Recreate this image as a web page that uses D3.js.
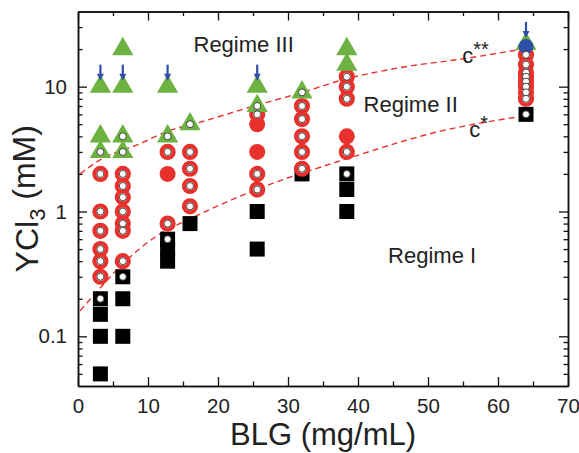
<!DOCTYPE html>
<html>
<head>
<meta charset="utf-8">
<script src="https://cdn.jsdelivr.net/npm/d3@7"></script>
<style>
  body { margin: 0; background: #fff; }
  text { font-family: "Liberation Sans", Arial, sans-serif; fill: #222; }
  .axis path, .axis line { stroke: #111; }
  .axis path { stroke-width: 1.5; }
  .axis line { stroke-width: 1.3; }
</style>
</head>
<body>
<script>
// BLG (mg/mL) vs YCl3 (mM), one [x, y] pair per marker
var squares = [[3.2,0.05],[3.2,0.1],[3.2,0.15],[3.2,0.2],[6.4,0.1],[6.4,0.2],[6.4,0.3],
  [12.8,0.4],[12.8,0.5],[12.8,0.6],[16,0.8],[25.6,0.5],[25.6,1],[32,2],
  [38.4,1],[38.4,1.5],[38.4,2],[64,6]];
var squareDots = [[3.2,0.2],[6.4,0.3],[12.8,0.6],[38.4,2],[64,6]];

var rings = [[3.2,2],[3.2,1],[3.2,0.7],[3.2,0.5],[3.2,0.4],[3.2,0.3],
  [6.4,2],[6.4,1.6],[6.4,1.3],[6.4,1],[6.4,0.8],[6.4,0.7],[6.4,0.4],
  [12.8,3],[12.8,0.8],
  [16,3],[16,2.2],[16,1.6],[16,1.1],
  [25.6,6],[25.6,2],[25.6,1.5],
  [32,7],[32,5.5],[32,4],[32,3],[32,2.2],
  [38.4,12],[38.4,10],[38.4,8],[38.4,3],
  [64,18],[64,15],[64,13],[64,12],[64,11],[64,10],[64,9],[64,8]];
var filledRed = [[12.8,2],[25.6,5],[25.6,3],[38.4,4]];

var triangles = [[3.2,10],[3.2,4],[3.2,3],[6.4,20],[6.4,10],[6.4,4],[6.4,3],
  [12.8,10],[12.8,4],[16,5],[25.6,10],[25.6,7],[32,9],[38.4,20],[38.4,15],[64,22]];
var triangleDots = [[3.2,3],[6.4,4],[6.4,3],[12.8,4],[16,5],[25.6,7],[32,9]];

var blueDots = [[64,21]];
var arrows = [[3.2,10],[6.4,10],[12.8,10],[25.6,10],[64,22]];

// hand-drawn guide curves
var cStar = [[0.3,0.16],[3.2,0.245],[7,0.41],[11.3,0.64],[16.5,0.9],[25.5,1.5],
  [38,2.6],[51.8,4.4],[63.5,5.8]];
var cStarStar = [[0.3,2.0],[3.2,2.6],[8.9,3.5],[12.8,4.4],[17.5,5.2],[25.5,7.1],
  [31.8,8.9],[38.2,11.5],[46,14.2],[55.6,16.9],[63.5,20]];

var labels = [
  {text: "Regime III", x: 16.5, y: 18.9},
  {text: "Regime II", x: 40.8, y: 6.3},
  {text: "Regime I", x: 44.3, y: 0.39}
];
var curveLabels = [
  {text: "c", sup: "**", x: 54.9, y: 15.5},
  {text: "c", sup: "*", x: 55.9, y: 3.96}
];

var xTicks = [0, 10, 20, 30, 40, 50, 60, 70];
var xMinor = [5, 15, 25, 35, 45, 55, 65];
var yTicks = [0.1, 1, 10];
var yMinor = [0.05,0.06,0.07,0.08,0.09,0.2,0.3,0.4,0.5,0.6,0.7,0.8,0.9,
  2,3,4,5,6,7,8,9,20,30];

var width = 579,
    height = 453,
    x0 = 78, x1 = 568, y0 = 386, y1 = 11.5;

var red = "#e8312c", green = "#6db342", blue = "#2f4fa6";

var x = d3.scaleLinear().domain([0, 70]).range([x0, x1]);
var y = d3.scaleLog().domain([0.04, 40]).range([y0, y1]);

var svg = d3.select("body").append("svg")
    .attr("width", width)
    .attr("height", height);

// axes, ticks pointing inward on all four sides
function frame(make, tr, minor, ticks, len, pad) {
  svg.append("g").attr("class", "axis").attr("transform", tr)
      .call(make().tickValues(minor).tickSize(-4.5).tickSizeOuter(0).tickFormat(""));
  return svg.append("g").attr("class", "axis").attr("transform", tr)
      .call(make().tickValues(ticks).tickSize(-len).tickSizeOuter(0).tickPadding(pad)
        .tickFormat(function(d) { return d; }));
}

var gx = frame(function() { return d3.axisBottom(x); }, "translate(0," + y0 + ")", xMinor, xTicks, 9, 12);
gx.selectAll("text").style("font-size", "20.5px");
frame(function() { return d3.axisTop(x); }, "translate(0," + y1 + ")", xMinor, xTicks, 9, 0)
    .selectAll("text").remove();
var gy = frame(function() { return d3.axisLeft(y); }, "translate(" + x0 + ",0)", yMinor, yTicks, 9, 11);
gy.selectAll("text").style("font-size", "20.5px");
frame(function() { return d3.axisRight(y); }, "translate(" + x1 + ",0)", yMinor, yTicks, 9, 0)
    .selectAll("text").remove();

svg.append("text")
    .attr("x", x(35)).attr("y", 445)
    .attr("text-anchor", "middle")
    .style("font-size", "31px")
    .text("BLG (mg/mL)");

var yt = svg.append("text")
    .attr("transform", "translate(38," + ((y0 + y1) / 2) + ") rotate(-90)")
    .attr("text-anchor", "middle")
    .style("font-size", "32px");
yt.append("tspan").text("YCl");
yt.append("tspan").attr("dy", "0.3em").style("font-size", "22px").text("3");
yt.append("tspan").attr("dy", "-0.3em").text(" (mM)");

// dashed guide lines
var line = d3.line()
    .x(function(d) { return x(d[0]); })
    .y(function(d) { return y(d[1]); })
    .curve(d3.curveMonotoneX);

svg.selectAll(".guide")
    .data([cStar, cStarStar])
  .enter().append("path")
    .attr("class", "guide")
    .attr("d", line)
    .attr("fill", "none")
    .attr("stroke", red)
    .attr("stroke-width", 1.4)
    .attr("stroke-dasharray", "6,4");

// regime I squares
svg.selectAll(".sq")
    .data(squares)
  .enter().append("rect")
    .attr("class", "sq")
    .attr("x", function(d) { return x(d[0]) - 7.5; })
    .attr("y", function(d) { return y(d[1]) - 7.5; })
    .attr("width", 15)
    .attr("height", 15)
    .attr("fill", "#000");

svg.selectAll(".fr")
    .data(filledRed)
  .enter().append("circle")
    .attr("class", "fr")
    .attr("cx", function(d) { return x(d[0]); })
    .attr("cy", function(d) { return y(d[1]); })
    .attr("r", 8)
    .attr("fill", red);

svg.selectAll(".ring")
    .data(rings)
  .enter().append("circle")
    .attr("class", "ring")
    .attr("cx", function(d) { return x(d[0]); })
    .attr("cy", function(d) { return y(d[1]); })
    .attr("r", 6)
    .attr("fill", "#fff")
    .attr("stroke", red)
    .attr("stroke-width", 4.2);

var tri = d3.symbol().type(d3.symbolTriangle).size(195);
svg.selectAll(".tri")
    .data(triangles)
  .enter().append("path")
    .attr("class", "tri")
    .attr("transform", function(d) { return "translate(" + x(d[0]) + "," + y(d[1]) + ")"; })
    .attr("d", tri)
    .attr("fill", green);

svg.selectAll(".blue")
    .data(blueDots)
  .enter().append("circle")
    .attr("class", "blue")
    .attr("cx", function(d) { return x(d[0]); })
    .attr("cy", function(d) { return y(d[1]); })
    .attr("r", 7.5)
    .attr("fill", blue);

// small open circles sitting inside the other markers
svg.selectAll(".dot")
    .data(rings.concat(triangleDots, squareDots))
  .enter().append("circle")
    .attr("class", "dot")
    .attr("cx", function(d) { return x(d[0]); })
    .attr("cy", function(d) { return y(d[1]); })
    .attr("r", 3.5)
    .attr("fill", "#fff")
    .attr("stroke", "#333")
    .attr("stroke-width", 0.9);

// blue arrows pointing down onto the triangles
var ar = svg.selectAll(".arrow")
    .data(arrows)
  .enter().append("g")
    .attr("class", "arrow")
    .attr("transform", function(d) { return "translate(" + x(d[0]) + "," + y(d[1]) + ")"; });
ar.append("line")
    .attr("y1", -22).attr("y2", -12)
    .attr("stroke", blue)
    .attr("stroke-width", 2.2);
ar.append("path")
    .attr("d", "M-3.5,-13L3.5,-13L0,-6Z")
    .attr("fill", blue);

svg.selectAll(".regime")
    .data(labels)
  .enter().append("text")
    .attr("class", "regime")
    .attr("x", function(d) { return x(d.x); })
    .attr("y", function(d) { return y(d.y); })
    .style("font-size", "22px")
    .text(function(d) { return d.text; });

var cl = svg.selectAll(".clab")
    .data(curveLabels)
  .enter().append("text")
    .attr("class", "clab")
    .attr("x", function(d) { return x(d.x); })
    .attr("y", function(d) { return y(d.y); })
    .style("font-size", "22px");
cl.append("tspan").text(function(d) { return d.text; });
cl.append("tspan").attr("dy", "-0.35em").style("font-size", "20px")
    .text(function(d) { return d.sup; });
</script>
</body>
</html>
